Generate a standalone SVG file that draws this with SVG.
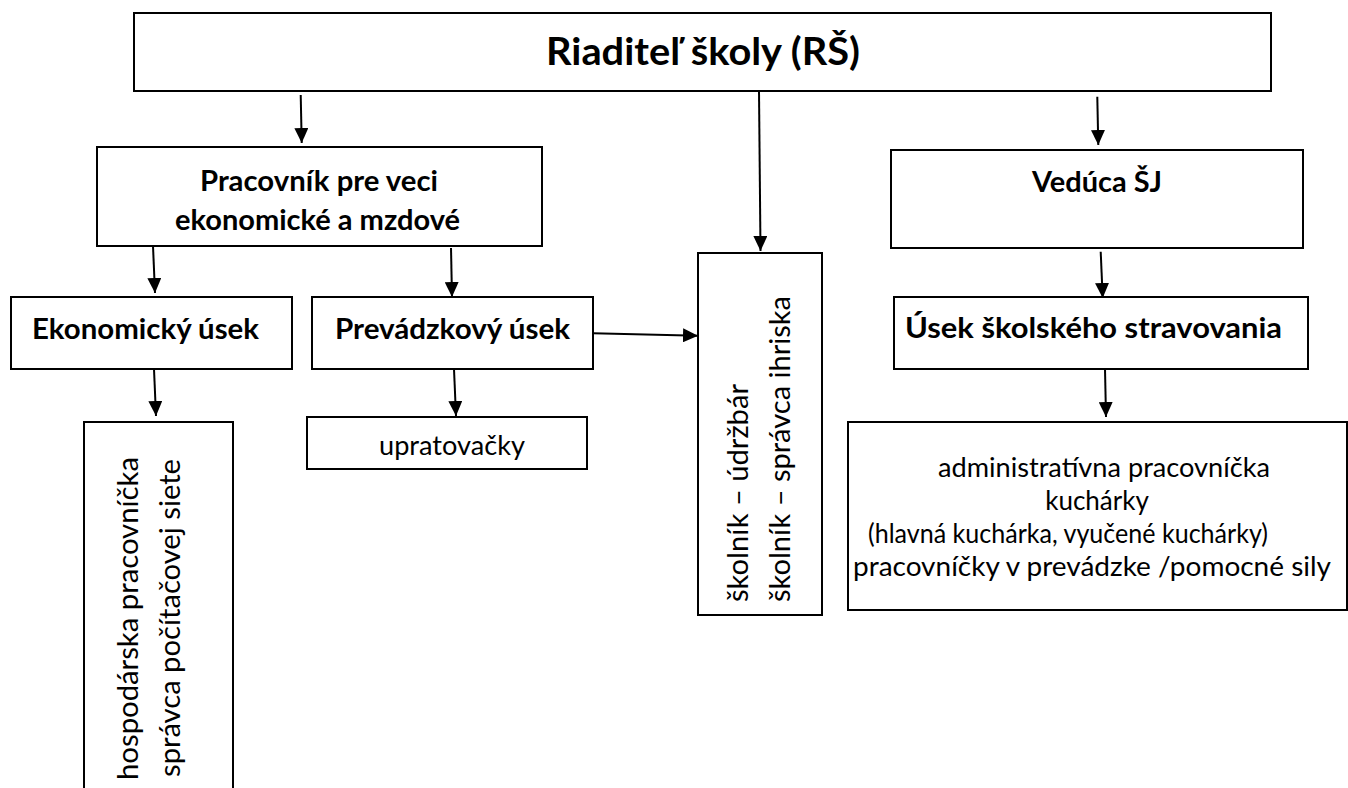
<svg xmlns="http://www.w3.org/2000/svg" width="1348" height="788" viewBox="0 0 1348 788">
<style>
.box{fill:#fff;stroke:#000;stroke-width:2}
.b{font-family:Lato,"Liberation Sans",sans-serif;font-weight:bold;font-size:28px;fill:#000}
.t{font-family:Lato,"Liberation Sans",sans-serif;font-weight:bold;font-size:38px;fill:#000}
.r{font-family:Lato,"Liberation Sans",sans-serif;font-size:26px;fill:#000}
.v{font-family:Lato,"Liberation Sans",sans-serif;font-size:28.5px;fill:#000}
.c{stroke:#000;stroke-width:2;fill:none;marker-end:url(#ah)}
</style>
<defs>
<marker id="ah" markerUnits="userSpaceOnUse" markerWidth="15" markerHeight="14" refX="15" refY="7" orient="auto">
<path d="M0,0 L15,7 L0,14 z" fill="#000"/>
</marker>
</defs>
<rect width="1348" height="788" fill="#fff"/>
<g id="riaditel">
<rect class="box" x="134" y="13" width="1137" height="78"/>
<text class="t" x="546" y="65" textLength="314" lengthAdjust="spacingAndGlyphs">Riaditeľ školy (RŠ)</text>
</g>
<g id="pracovnik">
<rect class="box" x="97" y="147" width="445" height="99"/>
<text class="b" x="200" y="191" textLength="238" lengthAdjust="spacingAndGlyphs">Pracovník pre veci</text>
<text class="b" x="175" y="230" textLength="285" lengthAdjust="spacingAndGlyphs">ekonomické a mzdové</text>
</g>
<g id="veduca">
<rect class="box" x="891" y="150" width="412" height="98"/>
<text class="b" x="1032" y="192" textLength="130" lengthAdjust="spacingAndGlyphs">Vedúca ŠJ</text>
</g>
<g id="ekonomicky">
<rect class="box" x="11" y="297" width="281" height="72"/>
<text class="b" x="32" y="339" textLength="227" lengthAdjust="spacingAndGlyphs">Ekonomický úsek</text>
</g>
<g id="prevadzkovy">
<rect class="box" x="312" y="297" width="281" height="72"/>
<text class="b" x="335" y="339" textLength="235" lengthAdjust="spacingAndGlyphs">Prevádzkový úsek</text>
</g>
<g id="usek">
<rect class="box" x="894" y="297" width="414" height="72"/>
<text class="b" x="905" y="338" textLength="377" lengthAdjust="spacingAndGlyphs">Úsek školského stravovania</text>
</g>
<g id="skolnik">
<rect class="box" x="698" y="253" width="124" height="362"/>
<text class="v" transform="translate(748,602) rotate(-90)" textLength="218" lengthAdjust="spacingAndGlyphs">školník – údržbár</text>
<text class="v" transform="translate(790,602) rotate(-90)" textLength="306" lengthAdjust="spacingAndGlyphs">školník – správca ihriska</text>
</g>
<g id="hospodarska">
<rect class="box" x="84" y="422" width="149" height="380"/>
<text class="v" transform="translate(138,780) rotate(-90)" textLength="323" lengthAdjust="spacingAndGlyphs">hospodárska pracovníčka</text>
<text class="v" transform="translate(180,777) rotate(-90)" textLength="318" lengthAdjust="spacingAndGlyphs">správca počítačovej siete</text>
</g>
<g id="upratovacky">
<rect class="box" x="307" y="417" width="280" height="52"/>
<text class="r" x="379" y="455" textLength="146" lengthAdjust="spacingAndGlyphs">upratovačky</text>
</g>
<g id="administrativna">
<rect class="box" x="848" y="422" width="499" height="188"/>
<text class="r" x="938" y="477" textLength="332" lengthAdjust="spacingAndGlyphs">administratívna pracovníčka</text>
<text class="r" x="1097" y="510" text-anchor="middle">kuchárky</text>
<text class="r" x="868" y="543" textLength="400" lengthAdjust="spacingAndGlyphs">(hlavná kuchárka, vyučené kuchárky)</text>
<text class="r" x="853" y="576" textLength="478" lengthAdjust="spacingAndGlyphs">pracovníčky v prevádzke /pomocné sily</text>
</g>
<g id="connectors">
<line class="c" x1="300.7" y1="95" x2="301.7" y2="143"/>
<line class="c" x1="759" y1="91" x2="760.5" y2="251"/>
<line class="c" x1="1097.3" y1="96.7" x2="1098.3" y2="145"/>
<line class="c" x1="153" y1="246" x2="155" y2="293"/>
<line class="c" x1="451" y1="248" x2="452" y2="297"/>
<line class="c" x1="154" y1="369" x2="156" y2="416"/>
<line class="c" x1="454" y1="369" x2="456" y2="416"/>
<line class="c" x1="593" y1="333.3" x2="698" y2="335.7"/>
<line class="c" x1="1100.7" y1="251.7" x2="1102.7" y2="298"/>
<line class="c" x1="1105" y1="369" x2="1106" y2="417"/>
</g>
</svg>
